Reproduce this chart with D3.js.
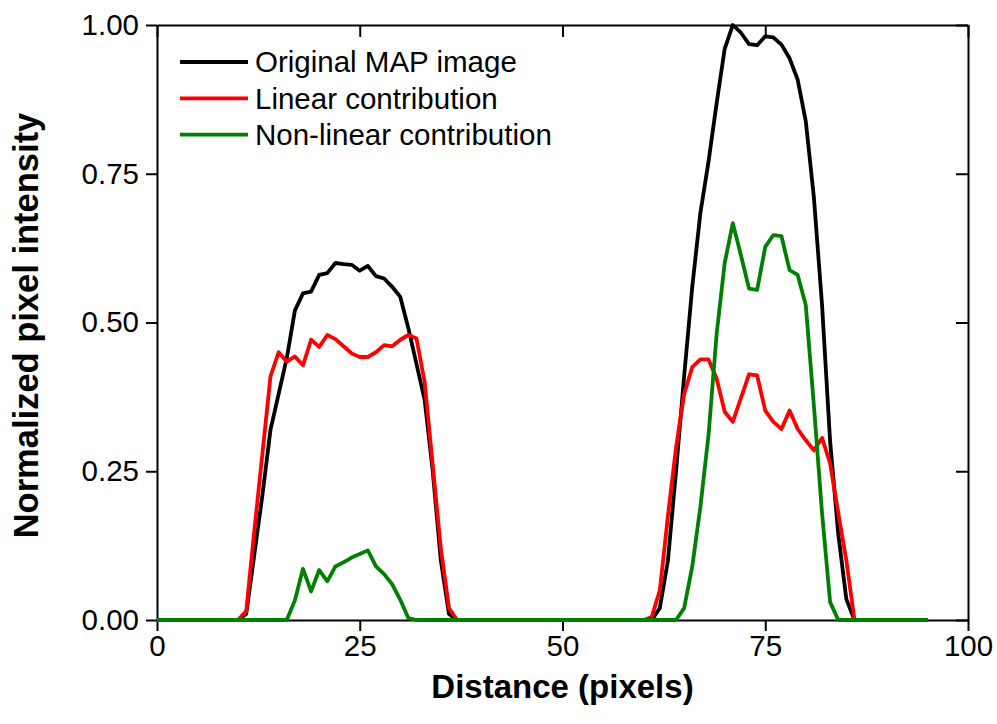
<!DOCTYPE html>
<html>
<head>
<meta charset="utf-8">
<title>Pixel intensity profile</title>
<script src="https://cdn.jsdelivr.net/npm/d3@7"></script>
<style>
html, body {
	margin: 0;
	padding: 0;
	background: #fff;
}
#chart text {
	font-family: "Liberation Sans", Arial, sans-serif;
	fill: #000;
}
</style>
</head>
<body>
<div id="chart"></div>
<script>
	// sample positions along the profile (pixels)
	var distance = d3.range(0, 96);

	var originalMap = [
		0, 0, 0, 0, 0, 0, 0, 0, 0, 0, 0,
		0.01, 0.11, 0.21, 0.32, 0.38, 0.44, 0.52, 0.549, 0.552, 0.58,
		0.583, 0.60, 0.598, 0.597, 0.587, 0.595, 0.578, 0.574, 0.56, 0.543,
		0.49, 0.43, 0.37, 0.25, 0.10, 0.01,
		0, 0, 0, 0, 0, 0, 0, 0, 0, 0, 0, 0, 0, 0, 0, 0, 0, 0, 0, 0, 0, 0, 0, 0, 0,
		0.02, 0.10, 0.25, 0.41, 0.56, 0.684, 0.77, 0.868, 0.96, 1.0,
		0.987, 0.968, 0.966, 0.981, 0.979, 0.967, 0.944, 0.908, 0.838, 0.71,
		0.53, 0.30, 0.145, 0.035,
		0, 0, 0, 0, 0, 0, 0, 0, 0, 0
	];

	var linearPart = [
		0, 0, 0, 0, 0, 0, 0, 0, 0, 0, 0,
		0.015, 0.15, 0.28, 0.41, 0.45, 0.434, 0.443, 0.428, 0.471, 0.459,
		0.479, 0.472, 0.46, 0.448, 0.442, 0.442, 0.45, 0.462, 0.46, 0.471,
		0.479, 0.473, 0.40, 0.26, 0.12, 0.02,
		0, 0, 0, 0, 0, 0, 0, 0, 0, 0, 0, 0, 0, 0, 0, 0, 0, 0, 0, 0, 0, 0, 0, 0,
		0.005, 0.05, 0.175, 0.29, 0.38, 0.425, 0.438, 0.438, 0.406, 0.35,
		0.333, 0.373, 0.413, 0.411, 0.352, 0.333, 0.321, 0.352, 0.321, 0.302,
		0.285, 0.306, 0.263, 0.18, 0.10,
		0, 0, 0, 0, 0, 0, 0, 0, 0, 0
	];

	var nonLinearPart = [
		0, 0, 0, 0, 0, 0, 0, 0, 0, 0, 0, 0, 0, 0, 0, 0, 0,
		0.033, 0.086, 0.048, 0.084, 0.065, 0.09, 0.097, 0.105, 0.111, 0.117,
		0.09, 0.077, 0.06, 0.034, 0.003,
		0, 0, 0, 0, 0, 0, 0, 0, 0, 0, 0, 0, 0, 0, 0, 0, 0, 0, 0, 0, 0, 0, 0, 0, 0, 0, 0, 0, 0, 0, 0, 0, 0,
		0.02, 0.09, 0.19, 0.31, 0.48, 0.60, 0.667, 0.613, 0.557, 0.555,
		0.627, 0.647, 0.645, 0.588, 0.58, 0.529, 0.36, 0.18, 0.03,
		0, 0, 0, 0, 0, 0, 0, 0, 0, 0, 0, 0
	];

	var seriesNames = ["Original MAP image", "Linear contribution", "Non-linear contribution"];
	var seriesColors = ["#000000", "#ff0000", "#008000"];
	var xTicks = [0, 25, 50, 75, 100];
	var yTicks = [0, 0.25, 0.5, 0.75, 1.0];

	var width = 997, height = 724;
	var margin = {left: 157, right: 29, top: 25, bottom: 104};

	var svg = d3.select("#chart").append("svg")
		.attr("width", width)
		.attr("height", height);

	var x = d3.scaleLinear().domain([0, 100]).range([margin.left, width - margin.right]);
	var y = d3.scaleLinear().domain([0, 1]).range([height - margin.bottom, margin.top]);

	var axisFont = "29.5px";

	// frame with ticks (bottom/left outward, top/right inward)
	var bottomAxis = svg.append("g")
		.attr("transform", `translate(0,${y(0)})`)
		.call(d3.axisBottom(x).tickValues(xTicks).tickSize(11).tickPadding(4).tickSizeOuter(0));
	var leftAxis = svg.append("g")
		.attr("transform", `translate(${x(0)},0)`)
		.call(d3.axisLeft(y).tickValues(yTicks).tickFormat(d3.format(".2f")).tickSize(11).tickPadding(7).tickSizeOuter(0));
	var topAxis = svg.append("g")
		.attr("transform", `translate(0,${y(1)})`)
		.call(d3.axisBottom(x).tickValues(xTicks).tickSize(12).tickFormat("").tickSizeOuter(0));
	var rightAxis = svg.append("g")
		.attr("transform", `translate(${x(100)},0)`)
		.call(d3.axisLeft(y).tickValues(yTicks).tickSize(12).tickFormat("").tickSizeOuter(0));

	[bottomAxis, leftAxis, topAxis, rightAxis].forEach(function(a) {
		a.selectAll("path, line").attr("stroke", "#000").attr("stroke-width", 2);
		a.selectAll("text").style("font-size", axisFont).attr("fill", "#000");
	});

	// lines
	var allSeries = [originalMap, linearPart, nonLinearPart];
	var line = d3.line()
		.x((d, i) => x(distance[i]))
		.y(d => y(d));

	svg.append("g")
		.attr("fill", "none")
		.attr("stroke-width", 3.8)
		.attr("stroke-linejoin", "round")
		.selectAll("path")
		.data(allSeries)
		.join("path")
			.attr("stroke", (d, i) => seriesColors[i])
			.attr("d", line);

	// legend
	var legend = svg.append("g")
		.selectAll("g")
		.data(seriesNames)
		.join("g")
			.attr("transform", (d, i) => `translate(180,${62 + i * 36.3})`);
	legend.append("line")
		.attr("x1", 0).attr("x2", 68)
		.attr("stroke", (d, i) => seriesColors[i])
		.attr("stroke-width", 3.8);
	legend.append("text")
		.attr("x", 75)
		.attr("dy", "0.35em")
		.style("font-size", axisFont)
		.text(d => d);

	// axis titles
	svg.append("text")
		.attr("x", (x(0) + x(100)) / 2)
		.attr("y", 698)
		.attr("text-anchor", "middle")
		.style("font-size", "33px")
		.style("font-weight", "bold")
		.text("Distance (pixels)");

	svg.append("text")
		.attr("transform", `translate(38,${(y(0) + y(1)) / 2 + 3}) rotate(-90)`)
		.attr("text-anchor", "middle")
		.style("font-size", "34.5px")
		.style("font-weight", "bold")
		.text("Normalized pixel intensity");
</script>
</body>
</html>
